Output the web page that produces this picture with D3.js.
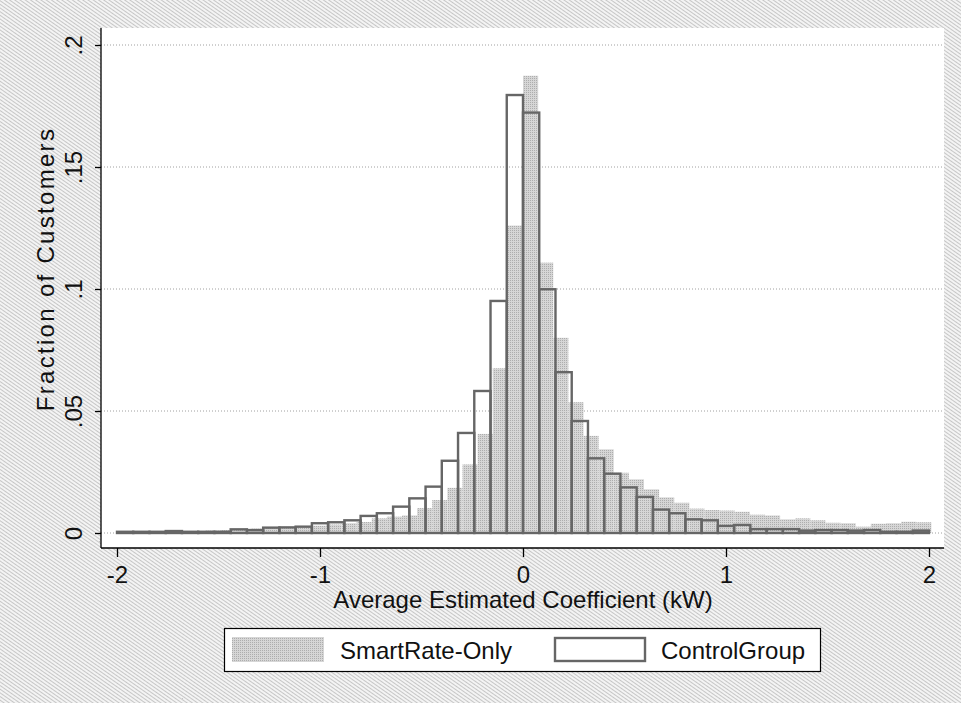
<!DOCTYPE html>
<html><head><meta charset="utf-8">
<script src="https://cdn.jsdelivr.net/npm/d3@7"></script>
<style>
body{margin:0;background:#fff}
svg{display:block}
text{font-family:"Liberation Sans",Arial,sans-serif;fill:#111}
</style>
</head><body>
<svg id="chart" width="961" height="703"></svg>
<script>
// ---- data ----
const controlStart = -2.0;
const controlBinWidth = 0.08;
const controlValues = [
  0.0005,0.0005,0.0005,0.0008,0.0005,0.0005,0.0005,0.0015,0.0012,0.0022,
  0.0023,0.0026,0.0040,0.0044,0.0052,0.0070,0.0081,0.0108,0.0142,0.0190,
  0.0296,0.0410,0.0582,0.0951,0.1795,0.1723,0.0999,0.0659,0.0459,0.0306,
  0.0243,0.0187,0.0148,0.0096,0.0081,0.0056,0.0052,0.0029,0.0033,0.0016,
  0.0016,0.0016,0.0010,0.0012,0.0012,0.0010,0.0012,0.0005,0.0005,0.0010
];
const smartStart = -1.937;
const smartBinWidth = 0.0745;
const smartValues = [
  0.0005,0.0006,0.0006,0.0008,0.0008,0.0010,0.0012,0.0015,0.0018,0.0020,
  0.0025,0.0028,0.0030,0.0035,0.0040,0.0045,0.0060,0.0067,0.0072,0.0102,
  0.0135,0.0185,0.0281,0.0406,0.0675,0.1260,
  0.1874,0.1108,0.0800,0.0536,0.0398,0.0343,0.0247,0.0220,0.0179,0.0146,
  0.0124,0.0100,0.0094,0.0092,0.0087,0.0075,0.0072,0.0056,0.0060,0.0052,
  0.0042,0.0040,0.0026,0.0038,0.0040,0.0046,0.0044
];
const xTicks = [-2,-1,0,1,2];
const xTickLabels = ["-2","-1","0","1","2"];
const yTicks = [0,0.05,0.1,0.15,0.2];
const yTickLabels = ["0",".05",".1",".15",".2"];
const xTitle = "Average Estimated Coefficient (kW)";
const yTitle = "Fraction of Customers";
const legendLabels = ["SmartRate-Only","ControlGroup"];

// ---- drawing ----
const svg = d3.select("#chart");
const W = 961, H = 703;
const plot = {left:101, right:944, top:28, bottom:548};
const x = d3.scaleLinear().domain([-2,2]).range([117,929]);
const y = d3.scaleLinear().domain([0,0.2]).range([533,45]);

const defs = svg.append("defs");
const bgPat = defs.append("pattern").attr("id","bgpat").attr("patternUnits","userSpaceOnUse")
  .attr("width",3).attr("height",3).attr("patternTransform","rotate(35)");
bgPat.append("rect").attr("width",3).attr("height",3).attr("fill","#f4f4f4");
bgPat.append("rect").attr("width",3).attr("height",1).attr("fill","#c6c6c6");
const shPat = defs.append("pattern").attr("id","shpat").attr("patternUnits","userSpaceOnUse")
  .attr("width",2).attr("height",2);
shPat.append("rect").attr("width",2).attr("height",2).attr("fill","#d6d6d6");
shPat.append("rect").attr("width",1).attr("height",1).attr("fill","#adadad");

svg.append("rect").attr("width",W).attr("height",H).attr("fill","url(#bgpat)");
svg.append("rect").attr("x",plot.left).attr("y",plot.top)
  .attr("width",plot.right-plot.left).attr("height",plot.bottom-plot.top).attr("fill","#fff");

// gridlines
svg.append("g").selectAll("line").data(yTicks).join("line")
  .attr("x1",plot.left).attr("x2",plot.right)
  .attr("y1",d=>y(d)).attr("y2",d=>y(d))
  .attr("stroke","#a0a0a0").attr("stroke-width",1).attr("stroke-dasharray","1,2");

// SmartRate bars (filled)
svg.append("g").selectAll("rect").data(smartValues).join("rect")
  .attr("x",(d,i)=>x(smartStart+i*smartBinWidth))
  .attr("width",(d,i)=>x(smartStart+(i+1)*smartBinWidth)-x(smartStart+i*smartBinWidth))
  .attr("y",d=>y(d)).attr("height",d=>y(0)-y(d))
  .attr("fill","url(#shpat)");

// Control bars (outline)
svg.append("g").selectAll("rect").data(controlValues).join("rect")
  .attr("x",(d,i)=>x(controlStart+i*controlBinWidth))
  .attr("width",(d,i)=>x(controlStart+(i+1)*controlBinWidth)-x(controlStart+i*controlBinWidth))
  .attr("y",d=>y(d)).attr("height",d=>y(0)-y(d))
  .attr("fill","none").attr("stroke","#666").attr("stroke-width",2.4);

// axes
const xAxis = d3.axisBottom(x).tickValues(xTicks).tickSize(9).tickFormat((d,i)=>xTickLabels[i]);
const gx = svg.append("g").attr("transform",`translate(0,${plot.bottom})`).call(xAxis);
gx.select(".domain").attr("d",`M${plot.left},0H${plot.right}`).attr("stroke","#000").attr("stroke-width",1.3);
gx.selectAll(".tick line").attr("stroke","#000").attr("stroke-width",1.3);
gx.selectAll(".tick text").attr("y",35).attr("dy",null).attr("font-size",24)
  .attr("font-family","'Liberation Sans',Arial,sans-serif").attr("fill","#111");

const yAxis = d3.axisLeft(y).tickValues(yTicks).tickSize(6).tickFormat((d,i)=>yTickLabels[i]);
const gy = svg.append("g").attr("transform",`translate(${plot.left},0)`).call(yAxis);
gy.select(".domain").attr("d",`M0,${plot.top}V${plot.bottom}`).attr("stroke","#000").attr("stroke-width",1.3);
gy.selectAll(".tick line").attr("stroke","#000").attr("stroke-width",1.3);
gy.selectAll(".tick text").attr("x",null).attr("dy",null)
  .attr("transform","translate(-19,0) rotate(-90)").attr("text-anchor","middle")
  .attr("font-size",24).attr("font-family","'Liberation Sans',Arial,sans-serif").attr("fill","#111");

svg.append("text").attr("x",x(0)).attr("y",608).attr("text-anchor","middle")
  .attr("font-size",24).text(xTitle);
svg.append("text").attr("transform","translate(54,269) rotate(-90)").attr("text-anchor","middle")
  .attr("font-size",24).attr("letter-spacing",2.3).text(yTitle);

// legend
const lg = svg.append("g");
lg.append("rect").attr("x",224.5).attr("y",628.5).attr("width",596).attr("height",43)
  .attr("fill","#fff").attr("stroke","#000").attr("stroke-width",1.2);
lg.append("rect").attr("x",232).attr("y",637).attr("width",92).attr("height",25).attr("fill","url(#shpat)");
lg.append("text").attr("x",340).attr("y",659).attr("font-size",24).text(legendLabels[0]);
lg.append("rect").attr("x",555).attr("y",638).attr("width",90).attr("height",23)
  .attr("fill","none").attr("stroke","#666").attr("stroke-width",2.4);
lg.append("text").attr("x",661).attr("y",659).attr("font-size",24).text(legendLabels[1]);
</script>
</body></html>
